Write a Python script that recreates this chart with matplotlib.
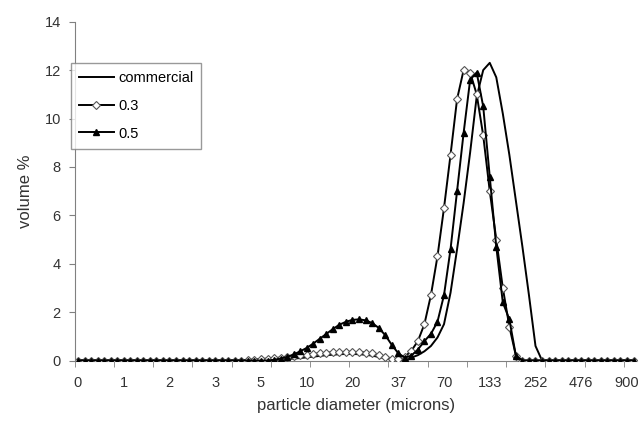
import numpy as np
import matplotlib
matplotlib.use("Agg")
import matplotlib.pyplot as plt

plt.rcParams['font.family'] = ['Liberation Sans', 'DejaVu Sans']

# size classes (86 bins), only every 7th one gets a label
tick_labels = ["0", "1", "2", "3", "5", "10", "20", "37", "70", "133", "252", "476", "900"]

commercial = [0, 0, 0, 0, 0, 0, 0, 0, 0, 0,
              0, 0, 0, 0, 0, 0, 0, 0, 0, 0,
              0, 0, 0, 0, 0, 0, 0, 0, 0, 0,
              0.02, 0.04, 0.06, 0.08, 0.1, 0.13, 0.16, 0.19, 0.22, 0.24,
              0.26, 0.27, 0.27, 0.26, 0.24, 0.2, 0.15, 0.09, 0.04, 0.02,
              0.05, 0.12, 0.22, 0.38, 0.6, 0.95, 1.5, 2.8, 4.6, 6.5,
              8.6, 10.9, 12.0, 12.3, 11.7, 10.2, 8.5, 6.6, 4.7, 2.7,
              0.6, 0, 0, 0, 0, 0, 0, 0, 0, 0,
              0, 0, 0, 0, 0, 0]

s03 = [0, 0, 0, 0, 0, 0, 0, 0, 0, 0,
       0, 0, 0, 0, 0, 0, 0, 0, 0, 0,
       0, 0, 0, 0, 0, 0, 0.02, 0.04, 0.06, 0.08,
       0.1, 0.12, 0.15, 0.18, 0.21, 0.24, 0.27, 0.3, 0.32, 0.34,
       0.35, 0.36, 0.36, 0.35, 0.33, 0.29, 0.23, 0.15, 0.08, 0.05,
       0.15, 0.4, 0.8, 1.5, 2.7, 4.3, 6.3, 8.5, 10.8, 12.0,
       11.9, 11.0, 9.3, 7.0, 5.0, 3.0, 1.4, 0.2, 0, 0,
       0, 0, 0, 0, 0, 0, 0, 0, 0, 0,
       0, 0, 0, 0, 0, 0]

s05 = [0, 0, 0, 0, 0, 0, 0, 0, 0, 0,
       0, 0, 0, 0, 0, 0, 0, 0, 0, 0,
       0, 0, 0, 0, 0, 0, 0, 0, 0, 0,
       0.03, 0.08, 0.15, 0.25, 0.38, 0.52, 0.7, 0.9, 1.1, 1.3,
       1.48, 1.6, 1.68, 1.7, 1.66, 1.55, 1.35, 1.05, 0.65, 0.3,
       0.12, 0.2, 0.45, 0.8, 1.1, 1.6, 2.7, 4.6, 7.0, 9.4,
       11.6, 11.9, 10.5, 7.6, 4.7, 2.4, 1.7, 0.2, 0, 0,
       0, 0, 0, 0, 0, 0, 0, 0, 0, 0,
       0, 0, 0, 0, 0, 0]

x = np.arange(len(commercial))

fig = plt.figure(figsize=(6.42, 4.28), dpi=100)
ax = fig.add_axes([0.1164, 0.1577, 0.8755, 0.7916])

ax.plot(x, commercial, color="black", lw=1.4, label="commercial")
ax.plot(x, s03, color="black", lw=1.4, marker="D", ms=4.5, mfc="white",
        mec="#555555", mew=0.8, label="0.3")
ax.plot(x, s05, color="black", lw=1.4, marker="^", ms=4.5, mfc="black",
        mec="black", label="0.5")

ax.set_xlim(-0.5, len(x) - 0.5)
ax.set_ylim(0, 14)
ax.set_yticks(range(0, 15, 2))

# labels every 7 bins, tick marks every 6 bins (between categories)
ax.set_xticks(np.arange(0, len(x), 7))
ax.set_xticklabels(tick_labels)
ax.set_xticks(np.arange(-0.5, len(x), 6), minor=True)
ax.tick_params(axis="x", which="major", length=0, pad=11, labelsize=10.5, colors="#333333")
ax.tick_params(axis="x", which="minor", length=4, direction="out", color="#808080")
ax.tick_params(axis="y", length=4, direction="out", color="#808080", labelsize=10.5,
               labelcolor="#333333", pad=6)

for s in ["top", "right"]:
    ax.spines[s].set_visible(False)
for s in ["left", "bottom"]:
    ax.spines[s].set_color("#808080")
ax.spines["bottom"].set_zorder(0)

ax.set_xlabel("particle diameter (microns)", fontsize=12, color="#333333", labelpad=6)
ax.set_ylabel("volume %", fontsize=12, color="#333333", labelpad=8)

leg = ax.legend(loc="upper left", bbox_to_anchor=(-0.02, 0.90), fontsize=10.5,
                frameon=True, fancybox=False, edgecolor="#808080",
                handlelength=2.4, borderpad=0.55, labelspacing=0.95, handletextpad=0.3)
leg.get_frame().set_linewidth(1.0)

fig.savefig("out.png", dpi=100)
